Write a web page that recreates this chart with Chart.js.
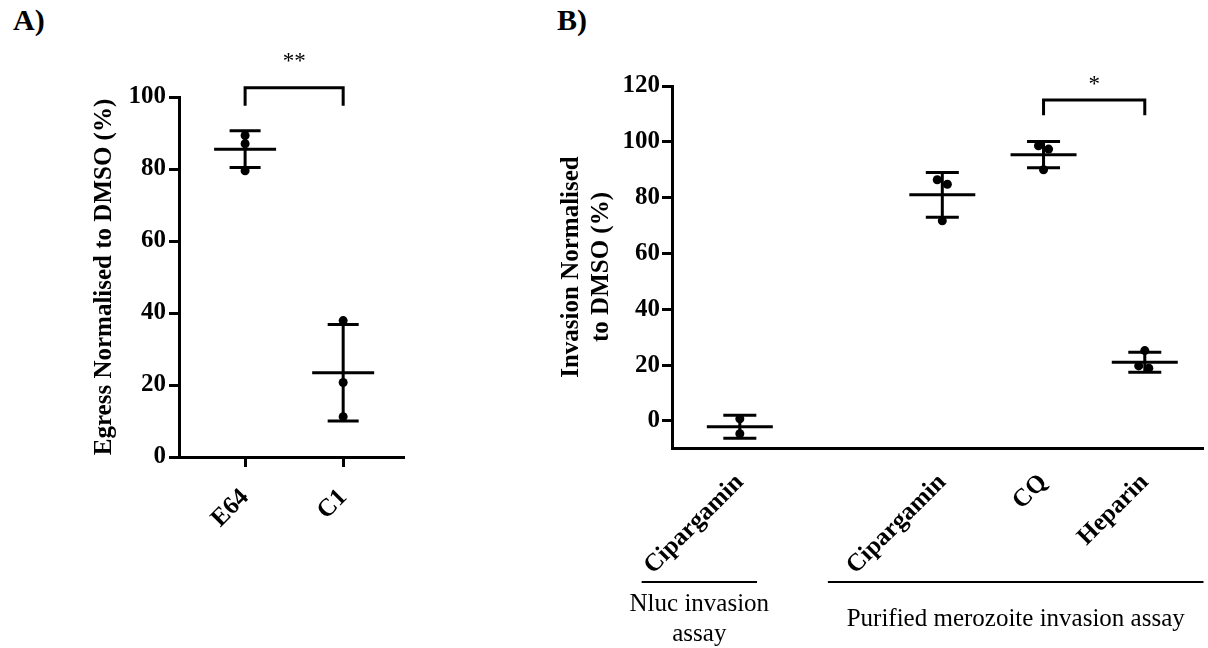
<!DOCTYPE html>
<html>
<head>
<meta charset="utf-8">
<script src="https://cdn.jsdelivr.net/npm/chart.js@4.4.1/dist/chart.umd.min.js"></script>
<style>
  body { margin: 0; background: #fff; width: 1208px; height: 648px; position: relative; overflow: hidden; }
  .panel { position: absolute; top: 0; }
  #wrapA { left: 0; width: 420px; height: 648px; }
  #wrapB { left: 420px; width: 788px; height: 648px; }
  .tag { position: absolute; font: bold 30px 'Liberation Serif', serif; line-height: 30px; }
</style>
</head>
<body>
<div class="tag" style="left:13px;top:5px">A)</div>
<div class="tag" style="left:557px;top:5px">B)</div>
<div class="panel" id="wrapA"><canvas id="chartA" width="420" height="648"></canvas></div>
<div class="panel" id="wrapB"><canvas id="chartB" width="788" height="648"></canvas></div>
<script>
// panel A: egress
const catsA = ['E64', 'C1'];
const pointsA = [[89.3, 87.0, 79.5], [37.9, 20.7, 11.2]];
const meanA = [85.5, 23.4];
const sdA = [5.1, 13.4];
const yTicksA = [0, 20, 40, 60, 80, 100];
const bracketA = {from: 0, to: 1, top: 102.6, leg: 97.6, label: '**', labelY: 108.0};

// panel B: invasion (empty slot = gap between the two assays)
const catsB = ['Cipargamin', '', 'Cipargamin', 'CQ', 'Heparin'];
const pointsB = [[0.8, -4.6], [], [86.4, 84.8, 71.7], [98.6, 97.4, 90.0], [25.2, 19.7, 18.9]];
const jitterB = [[0, 0], [], [-0.05, 0.05, 0], [-0.05, 0.05, 0], [0, -0.06, 0.04]];
const meanB = [-2.1, null, 81.0, 95.4, 21.0];
const sdB = [4.1, null, 8.0, 4.7, 3.6];
const yTicksB = [0, 20, 40, 60, 80, 100, 120];
const bracketB = {from: 3, to: 4, top: 115.0, leg: 109.5, label: '*', labelY: 118.3};
const groupsB = [
  {from: -0.97, to: 0.17, lines: ['Nluc invasion', 'assay']},
  {from: 0.87, to: 4.58, lines: ['Purified merozoite invasion assay']}
];

const FONT = "'Liberation Serif', 'Times New Roman', serif";
Chart.defaults.font.family = FONT;
Chart.defaults.color = '#000';

function toPoints(points, jitter) {
  const out = [];
  points.forEach((vals, i) => {
    vals.forEach((v, j) => {
      const dx = jitter && jitter[i] ? (jitter[i][j] || 0) : 0;
      out.push({x: i + dx, y: v});
    });
  });
  return out;
}

function meanSdPlugin(means, sds, capHalf, meanHalf) {
  return {
    id: 'meanSd',
    beforeDatasetsDraw(chart) {
      const {ctx, scales: {x, y}} = chart;
      ctx.save();
      ctx.strokeStyle = '#000';
      ctx.lineWidth = 3;
      means.forEach((m, i) => {
        if (m === null) return;
        const px = x.getPixelForValue(i);
        const top = y.getPixelForValue(m + sds[i]);
        const bot = y.getPixelForValue(m - sds[i]);
        const mid = y.getPixelForValue(m);
        ctx.beginPath();
        ctx.moveTo(px, top); ctx.lineTo(px, bot);
        ctx.moveTo(px - capHalf, top); ctx.lineTo(px + capHalf, top);
        ctx.moveTo(px - capHalf, bot); ctx.lineTo(px + capHalf, bot);
        ctx.moveTo(px - meanHalf, mid); ctx.lineTo(px + meanHalf, mid);
        ctx.stroke();
      });
      ctx.restore();
    }
  };
}

function bracketPlugin(b) {
  return {
    id: 'bracket',
    afterDraw(chart) {
      const {ctx, scales: {x, y}} = chart;
      const x1 = x.getPixelForValue(b.from), x2 = x.getPixelForValue(b.to);
      const yt = y.getPixelForValue(b.top), yl = y.getPixelForValue(b.leg);
      ctx.save();
      ctx.strokeStyle = '#000';
      ctx.lineWidth = 3;
      ctx.lineJoin = 'miter';
      ctx.beginPath();
      ctx.moveTo(x1, yl); ctx.lineTo(x1, yt); ctx.lineTo(x2, yt); ctx.lineTo(x2, yl);
      ctx.stroke();
      ctx.fillStyle = '#000';
      ctx.font = '23px ' + FONT;
      ctx.textAlign = 'center';
      ctx.textBaseline = 'alphabetic';
      ctx.fillText(b.label, (x1 + x2) / 2, y.getPixelForValue(b.labelY));
      ctx.restore();
    }
  };
}

const groupPlugin = {
  id: 'groups',
  afterDraw(chart) {
    const {ctx, chartArea, scales: {x}} = chart;
    const lineY = chartArea.bottom + 134;
    ctx.save();
    ctx.strokeStyle = '#000';
    ctx.fillStyle = '#000';
    ctx.lineWidth = 2;
    ctx.font = '25px ' + FONT;
    ctx.textAlign = 'center';
    ctx.textBaseline = 'middle';
    groupsB.forEach(g => {
      const x1 = x.getPixelForValue(g.from), x2 = x.getPixelForValue(g.to);
      ctx.beginPath();
      ctx.moveTo(x1, lineY); ctx.lineTo(x2, lineY);
      ctx.stroke();
      const cy = lineY + 37 - (g.lines.length - 1) * 15;
      g.lines.forEach((t, k) => ctx.fillText(t, (x1 + x2) / 2, cy + k * 30));
    });
    ctx.restore();
  }
};

const axisGrid = {drawOnChartArea: false, drawTicks: true, tickLength: 10, lineWidth: 3, color: '#000'};
const axisBorder = {display: true, color: '#000', width: 3};
const tickFont = {size: 25, weight: 'bold'};
const titleFont = {size: 25, weight: 'bold'};

function scatterSet(data) {
  return {
    data: data,
    pointRadius: 4.5,
    pointHoverRadius: 4.5,
    backgroundColor: '#000',
    borderWidth: 0,
    clip: false
  };
}

new Chart(document.getElementById('chartA'), {
  type: 'scatter',
  data: {datasets: [scatterSet(toPoints(pointsA))]},
  options: {
    responsive: false,
    animation: false,
    layout: {padding: {left: 88, top: 97, right: 17, bottom: 0}},
    plugins: {legend: {display: false}, tooltip: {enabled: false}},
    scales: {
      x: {
        type: 'linear', min: -0.674, max: 1.61,
        afterBuildTicks: s => { s.ticks = catsA.map((c, i) => ({value: i})); },
        ticks: {callback: v => catsA[v], font: tickFont, color: '#000', minRotation: 45, maxRotation: 45, padding: 16, autoSkip: false},
        grid: axisGrid,
        border: axisBorder,
        afterFit: s => { s.height = 191; s.paddingLeft = 0; s.paddingRight = 0; }
      },
      y: {
        min: 0, max: 100,
        afterBuildTicks: s => { s.ticks = yTicksA.map(v => ({value: v})); },
        ticks: {font: tickFont, color: '#000', padding: 3},
        grid: axisGrid,
        border: axisBorder,
        title: {display: true, text: 'Egress Normalised to DMSO (%)', font: titleFont, color: '#000', padding: {top: 2, bottom: 0}},
        afterFit: s => { s.width = 91; }
      }
    }
  },
  plugins: [meanSdPlugin(meanA, sdA, 15.5, 31), bracketPlugin(bracketA)]
});

new Chart(document.getElementById('chartB'), {
  type: 'scatter',
  data: {datasets: [scatterSet(toPoints(pointsB, jitterB))]},
  options: {
    responsive: false,
    animation: false,
    layout: {padding: {left: 130, top: 86, right: 3, bottom: 0}},
    plugins: {legend: {display: false}, tooltip: {enabled: false}},
    scales: {
      x: {
        type: 'linear', min: -0.67, max: 4.58,
        afterBuildTicks: s => { s.ticks = catsB.map((c, i) => ({value: i})).filter(t => catsB[t.value]); },
        ticks: {callback: v => catsB[v], font: tickFont, color: '#000', minRotation: 45, maxRotation: 45, padding: 20, autoSkip: false},
        grid: {display: true, drawOnChartArea: false, drawTicks: false, color: '#000'},
        border: axisBorder,
        afterFit: s => { s.height = 200; s.paddingLeft = 0; s.paddingRight = 0; }
      },
      y: {
        min: -9.7, max: 120,
        afterBuildTicks: s => { s.ticks = yTicksB.map(v => ({value: v})); },
        ticks: {font: tickFont, color: '#000', padding: 2},
        grid: axisGrid,
        border: axisBorder,
        title: {display: true, text: ['Invasion Normalised', 'to DMSO (%)'], font: titleFont, color: '#000', padding: {top: 7, bottom: 0}},
        afterFit: s => { s.width = 122; }
      }
    }
  },
  plugins: [meanSdPlugin(meanB, sdB, 16.5, 33), bracketPlugin(bracketB), groupPlugin]
});
</script>
</body>
</html>
